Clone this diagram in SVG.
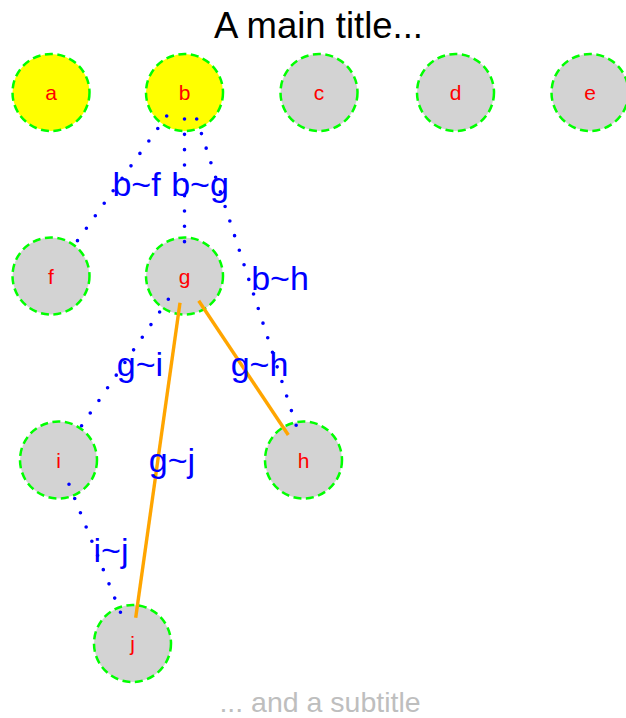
<svg xmlns="http://www.w3.org/2000/svg" width="626" height="718" viewBox="0 0 626 718">
<style>
.node circle{stroke:#00ff00;stroke-width:2.5;stroke-dasharray:8 4.5}
.yl{fill:#ffff00}
.gr{fill:#d3d3d3}
.nl{font-family:"Liberation Sans",Arial,sans-serif;font-size:21px;fill:#ff0000;text-anchor:middle}
.dot{stroke:#0000ff;stroke-width:3.6;stroke-linecap:round;stroke-dasharray:0 15.33;fill:none}
.sol{stroke:#ffa500;stroke-width:3.4;fill:none}
.el{font-family:"Liberation Sans",Arial,sans-serif;font-size:34px;fill:#0000ff;text-anchor:middle}
.title{font-family:"Liberation Sans",Arial,sans-serif;font-size:36.5px;fill:#000;text-anchor:middle}
.sub{font-family:"Liberation Sans",Arial,sans-serif;font-size:28.5px;fill:#bebebe;text-anchor:middle}
</style>
<rect width="626" height="718" fill="#fff"/>
<text class="title" x="318.5" y="37.5">A main title...</text>
<g id="a" class="node"><circle class="yl" cx="51" cy="92.5" r="38.5"/><text class="nl" x="51" y="100">a</text></g>
<g id="b" class="node"><circle class="yl" cx="184.5" cy="92.5" r="38.5"/><text class="nl" x="184.5" y="100">b</text></g>
<g id="c" class="node"><circle class="gr" cx="319" cy="92.5" r="38.5"/><text class="nl" x="319" y="100">c</text></g>
<g id="d" class="node"><circle class="gr" cx="455.5" cy="92.5" r="38.5"/><text class="nl" x="455.5" y="100">d</text></g>
<g id="e" class="node"><circle class="gr" cx="590" cy="92.5" r="38.5"/><text class="nl" x="590" y="100">e</text></g>
<g id="f" class="node"><circle class="gr" cx="51" cy="276" r="38.5"/><text class="nl" x="51" y="283.5">f</text></g>
<g id="g" class="node"><circle class="gr" cx="184.5" cy="276" r="38.5"/><text class="nl" x="184.5" y="283.5">g</text></g>
<g id="i" class="node"><circle class="gr" cx="58.5" cy="460" r="38.5"/><text class="nl" x="58.5" y="467.5">i</text></g>
<g id="h" class="node"><circle class="gr" cx="303.5" cy="460" r="38.5"/><text class="nl" x="303.5" y="467.5">h</text></g>
<g id="j" class="node"><circle class="gr" cx="132.5" cy="643.5" r="38.5"/><text class="nl" x="132.5" y="651">j</text></g>
<g id="edges">
<line class="dot" x1="166.7" y1="116" x2="76.7" y2="241.7"/>
<line class="dot" x1="184.5" y1="119" x2="184.5" y2="242.5"/>
<line class="dot" x1="196.7" y1="119" x2="297.7" y2="430"/>
<line class="dot" x1="168.3" y1="299.3" x2="80.7" y2="427"/>
<line class="sol" x1="198.7" y1="300.7" x2="288.3" y2="435"/>
<line class="sol" x1="180" y1="302.7" x2="135.7" y2="617.7"/>
<line class="dot" x1="69" y1="484.3" x2="121" y2="613.7"/>
<text class="el" x="136.5" y="196">b~f</text>
<text class="el" x="200" y="196">b~g</text>
<text class="el" x="280" y="289.5">b~h</text>
<text class="el" x="140" y="376">g~i</text>
<text class="el" x="259.5" y="376">g~h</text>
<text class="el" x="172" y="471.5">g~j</text>
<text class="el" x="111" y="561.5">i~j</text>
</g>
<text class="sub" x="320" y="712">... and a subtitle</text>
</svg>
